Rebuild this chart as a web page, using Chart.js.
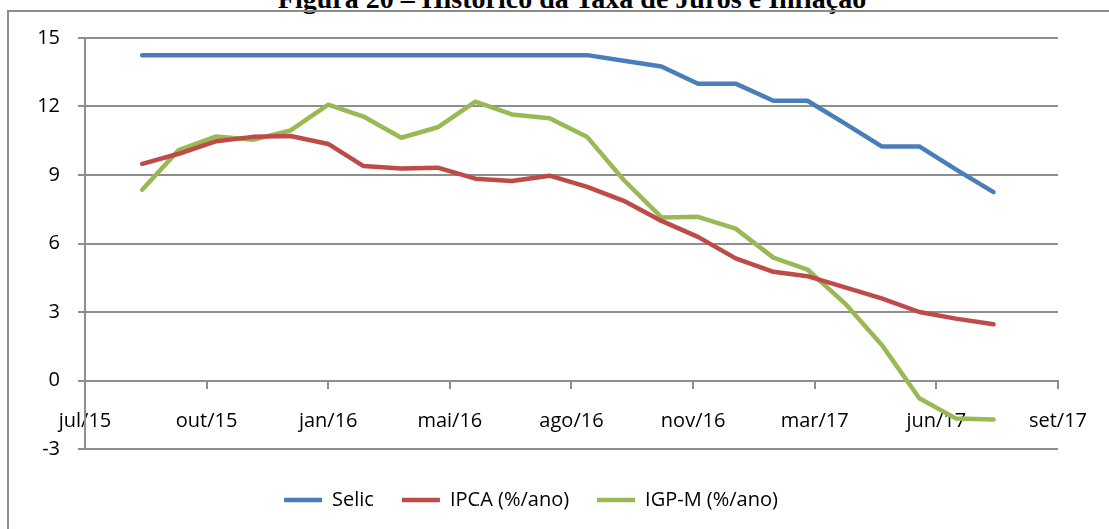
<!DOCTYPE html>
<html>
<head>
<meta charset="utf-8">
<script src="https://cdn.jsdelivr.net/npm/chart.js"></script>
<style>
  html, body { margin: 0; padding: 0; background: #fff; overflow: hidden; }
  body { width: 1109px; height: 529px; position: relative; }
  .frame {
    position: absolute; left: 7px; top: 10px; width: 1200px; height: 600px;
    border: 2px solid #8c8c8c;
  }
  .title {
    position: absolute; left: 572px; top: -15px; transform: translateX(-50%);
    font: bold 28px/28px "Liberation Serif", "Times New Roman", serif;
    white-space: nowrap; color: #000;
  }
  #chart { position: absolute; left: 0; top: 0; }
</style>
</head>
<body>
<div class="title">Figura 20 – Histórico da Taxa de Juros e Inflação</div>
<div class="frame"></div>
<canvas id="chart" width="1109" height="529"></canvas>
<script>
// monthly observations (month-end dates)
const dates = [
  "2015-08-31", "2015-09-30", "2015-10-31", "2015-11-30", "2015-12-31",
  "2016-01-31", "2016-02-29", "2016-03-31", "2016-04-30", "2016-05-31",
  "2016-06-30", "2016-07-31", "2016-08-31", "2016-09-30", "2016-10-31",
  "2016-11-30", "2016-12-31", "2017-01-31", "2017-02-28", "2017-03-31",
  "2017-04-30", "2017-05-31", "2017-06-30", "2017-07-31",
];
const selic = [
  14.25, 14.25, 14.25, 14.25, 14.25, 14.25, 14.25, 14.25, 14.25, 14.25,
  14.25, 14.25, 14.25, 14.0, 13.75, 13.0, 13.0, 12.25, 12.25, 11.25,
  10.25, 10.25, 9.25, 8.25,
];
const ipca = [
  9.49, 9.93, 10.48, 10.67, 10.71, 10.36, 9.39, 9.28, 9.32, 8.84,
  8.74, 8.97, 8.48, 7.87, 6.99, 6.29, 5.35, 4.76, 4.57, 4.08,
  3.6, 3.0, 2.71, 2.46,
];
const igpm = [
  8.35, 10.09, 10.69, 10.54, 10.95, 12.08, 11.56, 10.63, 11.09, 12.21,
  11.65, 11.49, 10.66, 8.78, 7.14, 7.17, 6.65, 5.38, 4.86, 3.37,
  1.57, -0.78, -1.66, -1.71,
];
const xTickLabels = ["jul/15", "out/15", "jan/16", "mai/16", "ago/16", "nov/16", "mar/17", "jun/17", "set/17"];
const axisStart = "2015-07-15";
const axisDays = 800;
const tickDays = 100;

const dayMs = 86400000;
const t0 = new Date(axisStart).getTime();
const xs = dates.map((d) => Math.round((new Date(d).getTime() - t0) / dayMs));
const toPoints = (vals) => vals.map((v, i) => ({ x: xs[i], y: v }));

const font = { family: "'Open Sans', 'Noto Sans', sans-serif", size: 20 };
const gridGray = "#8e8e8e";

const lineStyle = (color) => ({
  borderColor: color,
  backgroundColor: color,
  borderWidth: 4.5,
  borderCapStyle: "round",
  borderJoinStyle: "round",
  pointRadius: 0,
  tension: 0,
});

new Chart(document.getElementById("chart"), {
  type: "line",
  data: {
    datasets: [
      { label: "Selic", data: toPoints(selic), ...lineStyle("#4a7ebb") },
      { label: "IPCA (%/ano)", data: toPoints(ipca), ...lineStyle("#be4b48") },
      { label: "IGP-M (%/ano)", data: toPoints(igpm), ...lineStyle("#98b954") },
    ],
  },
  options: {
    responsive: false,
    animation: false,
    layout: { padding: { top: 38, right: 47, bottom: 9, left: 0 } },
    plugins: {
      tooltip: { enabled: false },
      legend: {
        position: "bottom",
        title: { display: true, text: "", font: { size: 10, lineHeight: 1.3 }, padding: 0 },
        labels: {
          usePointStyle: true,
          pointStyle: "line",
          pointStyleWidth: 38,
          padding: 28,
          color: "#000",
          font,
        },
      },
    },
    scales: {
      x: {
        type: "linear",
        position: { y: 0 },
        min: 0,
        max: axisDays,
        afterBuildTicks: (scale) => {
          scale.ticks = xTickLabels.map((_, i) => ({ value: i * tickDays }));
        },
        ticks: {
          color: "#000",
          font,
          padding: 22,
          maxRotation: 0,
          autoSkip: false,
          callback: (value, index) => xTickLabels[index],
        },
        grid: { drawOnChartArea: false, tickLength: 7, color: gridGray, lineWidth: 2 },
        border: { display: true, color: gridGray, width: 2 },
      },
      y: {
        min: -3,
        max: 15,
        afterFit: (scale) => { scale.width = 85; },
        ticks: { stepSize: 3, color: "#000", font, padding: 18 },
        grid: { color: gridGray, lineWidth: 2, tickLength: 7 },
        border: { display: true, color: gridGray, width: 2 },
      },
    },
  },
});
</script>
</body>
</html>
